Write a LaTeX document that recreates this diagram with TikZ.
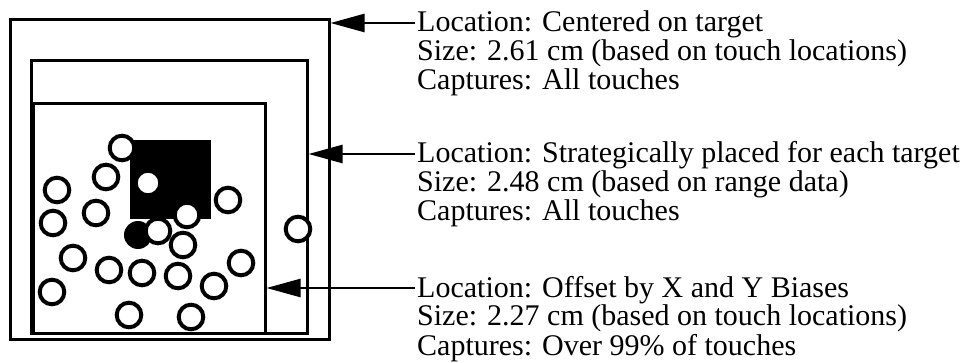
\documentclass[tikz,border=0pt]{standalone}
\usepackage{fontspec}
\setmainfont{Liberation Serif}
\usetikzlibrary{arrows.meta}

\begin{document}
\begin{tikzpicture}[
x=1pt, y=-1pt,
box/.style={draw, line width=3pt, inner sep=0pt},
touch/.style={draw, fill=white, line width=4pt},
note/.style={font=\fontsize{30}{29}\selectfont, align=left, inner sep=0pt, anchor=base west},
arrow/.style={-{Triangle[length=34pt,width=18pt]}, line width=2.5pt} ]

\useasboundingbox (0,0) rectangle (961,363);

% nested capture areas
\node[box, minimum width=319pt, minimum height=319pt] (outer) at (169.5,179.5) {};

\node[box, minimum width=276pt, minimum height=272pt] (middle) at (169,197) {};

\node[box, minimum width=232pt, minimum height=229pt] (inner) at (149,218.5) {};

% target and touches
\node[fill=black, inner sep=0pt, minimum width=81pt, minimum height=79pt] (target) at (170.5,179.5) {};

\fill (138,235) circle (14);

\foreach \px/\py in {122/148, 106/177, 57/190, 148/183, 228/200, 96/213, 53/223,
  187/215, 298/229, 158/231, 183/245, 73/258, 241/263, 109/270, 142/273,
  178/276, 214/286, 52/292, 129/315, 191/317}
  \draw[touch] (\px,\py) circle (12.3);

% descriptions (placed at the baseline of their last line)
\node[note] (centred) at (417,90) {Location: Centered on target\\Size: 2.61 cm (based on touch locations)\\Captures: All touches};

\node[note] (strategic) at (417,221) {Location: Strategically placed for each target\\Size: 2.48 cm (based on range data)\\Captures: All touches};

\node[note] (offset) at (417,355) {Location: Offset by X and Y Biases\\Size: 2.27 cm (based on touch locations)\\Captures: Over 99\% of touches};

\coordinate (a1) at ([xshift=-2pt,yshift=67pt]centred.base west);
\coordinate (a2) at ([xshift=-2pt,yshift=67pt]strategic.base west);
\coordinate (a3) at ([xshift=-2pt,yshift=67pt]offset.base west);

\draw[arrow] (a1) -- (a1 -| outer.east);

\draw[arrow] (a2) -- (a2 -| middle.east);

\draw[arrow] (a3) -- (a3 -| inner.east);

\end{tikzpicture}
\end{document}
